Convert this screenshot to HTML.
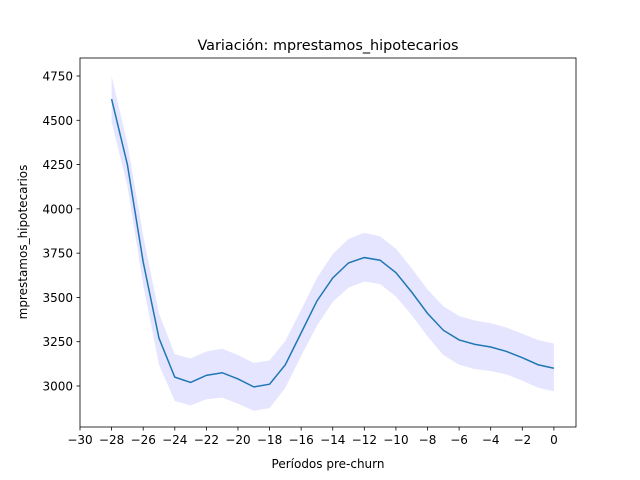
<!DOCTYPE html>
<html><head><meta charset="utf-8"><style>
body{margin:0;background:#fff;}
svg{display:block;font-family:"DejaVu Sans","Liberation Sans",sans-serif;}
</style></head><body>
<svg id="chart" width="640" height="480">
<rect x="0" y="0" width="640" height="480" fill="#fff"/>
<text x="328" y="50" text-anchor="middle" font-size="14.4">Variación: mprestamos_hipotecarios</text>
<text x="328" y="468" text-anchor="middle" font-size="12">Períodos pre-churn</text>
<text transform="translate(27,242) rotate(-90)" text-anchor="middle" font-size="12">mprestamos_hipotecarios</text>
<g id="plot"></g>
</svg>
<script>
const periods=[-28,-27,-26,-25,-24,-23,-22,-21,-20,-19,-18,-17,-16,-15,-14,-13,-12,-11,-10,-9,-8,-7,-6,-5,-4,-3,-2,-1,0];
const meanValues=[4620,4250,3700,3270,3050,3020,3060,3075,3040,2995,3010,3120,3300,3480,3610,3695,3725,3710,3640,3530,3410,3315,3260,3235,3220,3195,3160,3120,3100];
const upperValues=[4750,4370,3850,3410,3180,3155,3195,3210,3175,3130,3145,3255,3430,3610,3745,3830,3865,3845,3775,3665,3545,3450,3395,3370,3355,3330,3295,3260,3240];
const lowerValues=[4490,4130,3570,3120,2915,2890,2925,2935,2900,2860,2875,2990,3170,3340,3475,3555,3590,3575,3505,3400,3280,3175,3120,3095,3085,3065,3030,2990,2970];
const xTicks=[-30,-28,-26,-24,-22,-20,-18,-16,-14,-12,-10,-8,-6,-4,-2,0];
const yTicks=[3000,3250,3500,3750,4000,4250,4500,4750];
const L=80,R=576,T=58,B=427;
const xMin=-30,xMax=1.4;
const X=v=>L+(v-xMin)/(xMax-xMin)*(R-L);
const Y=v=>386-(v-3000)*0.17714;
const g=document.getElementById('plot');
const NS='http://www.w3.org/2000/svg';
function mk(t,a){const e=document.createElementNS(NS,t);for(const k in a)e.setAttribute(k,a[k]);g.appendChild(e);return e;}
let d='M'+periods.map((p,i)=>X(p)+','+Y(upperValues[i])).join('L');
for(let i=periods.length-1;i>=0;i--)d+='L'+X(periods[i])+','+Y(lowerValues[i]);
const band=mk('path',{d:d+'Z',fill:'#0000ff','fill-opacity':0.1,stroke:'none'});


const line=mk('path',{d:'M'+periods.map((p,i)=>X(p)+','+Y(meanValues[i])).join('L'),fill:'none',stroke:'#1f77b4','stroke-width':1.5});


const frame=mk('rect',{x:L,y:T,width:R-L,height:B-T,fill:'none',stroke:'#000','stroke-width':0.8});


xTicks.forEach(v=>{const x=X(v);
mk('line',{x1:x,x2:x,y1:B,y2:B+3.5,stroke:'#000','stroke-width':0.8});
const t=mk('text',{x:x,y:B+17,'text-anchor':'middle','font-size':12});t.textContent=(v<0?'\u2212'+(-v):v);

});
yTicks.forEach(v=>{const y=Y(v);
mk('line',{x1:L,x2:L-3.5,y1:y,y2:y,stroke:'#000','stroke-width':0.8});
const t=mk('text',{x:L-7,y:y+4.5,'text-anchor':'end','font-size':12});t.textContent=v;

});
</script>
</body></html>
